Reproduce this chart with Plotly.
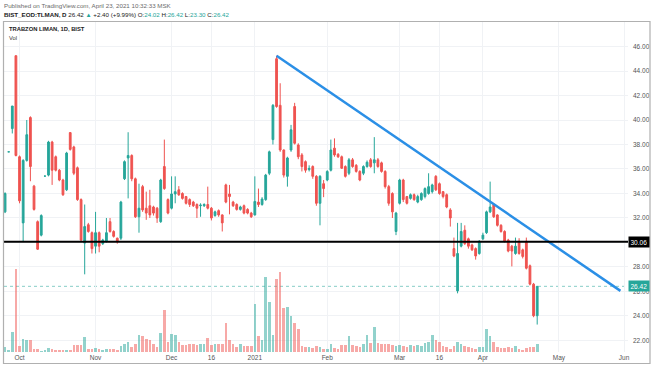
import pandas as pd
import plotly.graph_objects as go

# ---------------- data ----------------
past_holidays = ["2020-10-29", "2021-01-01"]
future_holidays = ["2021-04-23", "2021-05-13", "2021-05-14", "2021-05-19"]
dates = pd.bdate_range("2020-09-25", "2021-04-22", freq="C", holidays=past_holidays)

open_ = [32.5, 37.4, 39.3, 45.25, 37.0, 31.6, 36.7, 40.2, 34.6, 31.7,
         30.6, 35.42, 35.5, 38.2, 37.0, 35.9, 35.1, 34.3, 38.97, 37.8,
         36.1, 33.5, 29.95, 31.45, 30.8, 29.7, 30.8, 29.9, 30.1, 31.7,
         30.9, 30.35, 30.35, 35.2, 36.9, 37.1, 35.2, 32.1, 34.56, 32.8,
         33.0, 32.9, 32.8, 31.7, 36.2, 33.5, 32.8, 33.96, 34.3, 34.0,
         33.75, 33.5, 33.3, 33.1, 33.0, 33.0, 33.1, 32.8, 32.2, 32.6,
         32.25, 34.7, 33.96, 33.3, 33.1, 32.7, 33.0, 32.7, 32.4, 32.25,
         33.3, 33.1, 33.5, 35.65, 38.4, 45.0, 41.2, 37.55, 35.4, 37.55,
         41.1, 37.96, 37.15, 36.6, 35.95, 36.2, 35.4, 33.2, 34.8, 35.1,
         35.9, 37.7, 37.2, 37.0, 36.2, 35.65, 36.75, 36.3, 35.8, 35.65,
         36.2, 36.75, 36.5, 36.75, 36.5, 35.8, 34.56, 34.0, 30.9, 33.2,
         35.1, 33.75, 33.6, 33.9, 33.3, 33.5, 33.75, 34.0, 34.15, 35.4,
         34.8, 34.15, 33.9, 32.66, 29.5, 26.05, 29.7, 31.0, 30.3, 29.8,
         29.5, 29.1, 30.3, 30.8, 32.5, 33.1, 32.25, 31.4, 30.9, 30.2,
         29.7, 29.1, 30.1, 29.4, 30.1, 28.1, 26.6, 24.02]
high = [34.1, 37.4, 41.14, 45.25, 37.1, 36.8, 40.0, 40.3, 34.7, 31.8,
        32.3, 35.42, 38.3, 38.3, 37.1, 36.0, 35.2, 37.4, 39.0, 37.9,
        36.2, 33.6, 33.1, 31.6, 30.9, 32.5, 30.9, 30.3, 32.0, 32.0,
        31.0, 30.4, 33.4, 36.7, 39.0, 37.2, 35.3, 34.8, 34.7, 34.15,
        34.3, 33.0, 32.9, 35.2, 38.4, 33.6, 35.4, 35.4, 34.6, 34.1,
        33.8, 33.6, 33.4, 33.2, 33.2, 33.2, 34.56, 32.9, 32.6, 32.7,
        32.3, 34.8, 34.7, 33.4, 33.2, 33.0, 33.1, 32.8, 32.5, 35.4,
        34.4, 33.7, 35.6, 37.5, 41.3, 45.25, 43.0, 37.6, 37.0, 39.6,
        41.4, 38.1, 37.3, 36.7, 36.3, 36.3, 35.5, 35.5, 35.1, 35.9,
        38.4, 38.5, 37.3, 37.1, 36.3, 36.9, 36.9, 36.4, 35.9, 36.3,
        36.7, 36.9, 38.6, 36.9, 36.6, 35.9, 34.7, 34.1, 32.5, 35.2,
        35.2, 33.8, 34.0, 34.0, 33.9, 34.1, 34.5, 35.65, 34.8, 35.5,
        34.9, 34.2, 34.0, 32.8, 30.4, 31.6, 31.6, 31.4, 30.4, 29.9,
        29.6, 30.2, 30.8, 32.6, 34.97, 33.2, 32.3, 31.5, 31.0, 30.3,
        29.8, 30.4, 30.35, 29.5, 30.4, 28.2, 26.7, 26.42]
low = [32.4, 37.4, 38.9, 37.03, 33.2, 30.06, 36.6, 35.0, 32.6, 29.4,
       30.5, 35.42, 35.4, 34.7, 35.8, 35.0, 33.8, 34.2, 37.5, 35.5,
       33.4, 30.1, 27.4, 30.8, 29.1, 29.1, 29.2, 29.8, 30.0, 30.8,
       30.4, 29.9, 30.2, 35.1, 33.6, 35.0, 32.0, 30.8, 32.5, 31.85,
       32.0, 32.2, 31.6, 31.6, 34.3, 32.3, 32.7, 33.2, 33.8, 33.5,
       33.1, 32.9, 32.9, 32.0, 32.1, 32.9, 32.7, 31.8, 32.1, 32.1,
       30.9, 33.2, 32.3, 32.9, 32.6, 32.6, 32.3, 32.3, 32.0, 32.2,
       32.9, 33.0, 33.4, 35.5, 38.0, 41.0, 37.4, 35.3, 34.56, 37.4,
       38.0, 36.8, 35.8, 35.7, 35.8, 35.2, 33.0, 31.4, 33.7, 35.0,
       35.8, 37.0, 36.9, 36.0, 35.3, 35.5, 36.1, 35.7, 35.0, 35.5,
       36.1, 36.1, 35.65, 36.1, 35.7, 34.4, 33.0, 32.0, 30.6, 33.1,
       33.3, 33.1, 33.5, 33.4, 33.2, 33.4, 33.6, 33.9, 34.0, 34.2,
       33.9, 33.6, 32.8, 31.3, 28.8, 25.85, 29.6, 29.8, 29.5, 29.3,
       28.6, 29.0, 30.2, 30.7, 32.4, 32.0, 31.3, 30.8, 30.0, 29.2,
       28.05, 29.0, 29.0, 28.7, 27.8, 26.5, 23.9, 23.30]
close = [34.0, 37.4, 41.14, 37.1, 33.4, 36.7, 38.8, 36.2, 32.7, 29.45,
         32.2, 35.42, 38.2, 35.9, 35.9, 35.1, 33.9, 37.3, 37.6, 35.65,
         33.5, 30.2, 31.3, 30.9, 29.5, 30.8, 29.7, 30.2, 30.8, 30.9,
         30.5, 30.1, 33.3, 36.6, 37.1, 35.2, 32.1, 32.8, 32.66, 32.4,
         32.25, 32.4, 32.0, 35.1, 34.4, 32.4, 33.96, 34.15, 33.9, 33.6,
         33.2, 33.1, 33.0, 32.8, 33.05, 33.1, 32.8, 32.0, 32.5, 32.25,
         31.6, 33.3, 33.75, 33.0, 32.7, 32.9, 32.4, 32.4, 32.1, 33.35,
         33.1, 33.55, 35.5, 37.4, 41.2, 41.1, 37.55, 35.5, 36.9, 39.2,
         38.1, 37.0, 36.2, 35.9, 36.05, 35.4, 33.2, 35.4, 34.4, 35.8,
         37.55, 37.15, 37.0, 36.06, 35.4, 36.75, 36.2, 35.8, 35.1, 36.2,
         36.55, 36.2, 36.75, 36.2, 35.8, 34.56, 33.2, 32.5, 32.4, 35.1,
         33.5, 33.2, 33.9, 33.5, 33.75, 34.0, 34.4, 34.56, 34.7, 34.3,
         34.0, 33.75, 32.9, 32.0, 28.9, 29.1, 30.9, 29.9, 29.7, 29.4,
         28.9, 30.1, 30.6, 32.5, 32.9, 32.1, 31.4, 30.9, 30.1, 29.3,
         29.3, 29.7, 29.1, 28.86, 27.9, 26.6, 24.02, 26.42]
volume = [1.5, 0.5, 6.0, 24.8, 1.8, 3.8, 3.5, 3.5, 0.8, 0.8,
          0.3, 0.5, 1.2, 1.0, 0.5, 0.5, 0.5, 0.6, 0.6, 2.0,
          2.2, 2.2, 4.5, 1.0, 0.8, 1.2, 1.0, 0.7, 0.8, 0.8,
          0.8, 0.7, 1.8, 2.5, 3.0, 1.5, 2.5, 5.2, 4.7, 4.0,
          3.5, 2.5, 1.5, 5.8, 12.7, 3.0, 5.5, 5.0, 3.0, 2.2,
          2.2, 2.3, 2.3, 2.2, 2.3, 2.5, 4.3, 2.2, 2.5, 2.5,
          2.3, 8.8, 3.5, 2.5, 1.5, 2.3, 1.7, 1.8, 1.7, 14.3,
          4.8, 3.5, 22.5, 15.0, 5.2, 21.8, 24.0, 13.2, 13.5, 10.7,
          8.8, 7.0, 1.7, 1.5, 1.5, 1.3, 1.7, 1.5, 1.0, 0.8,
          2.3, 1.2, 1.0, 2.2, 2.2, 4.7, 2.2, 1.7, 1.5, 2.3,
          5.2, 2.7, 7.5, 2.7, 2.5, 2.3, 2.3, 2.2, 1.8, 2.2,
          1.8, 1.5, 2.0, 1.7, 2.0, 1.7, 2.7, 3.0, 5.0, 3.7,
          3.0, 1.7, 1.5, 1.0, 1.7, 3.0, 2.5, 1.7, 1.5, 1.3,
          1.0, 1.5, 1.5, 7.0, 4.8, 3.0, 1.5, 1.3, 1.3, 1.5,
          1.3, 1.7, 1.0, 0.7, 1.3, 1.5, 1.5, 2.3]

level_value = 30.06
last_price = 26.42
trend_dates = ["2021-01-12", "2021-05-31"]
trend_values = [45.25, 26.05]

price_ticks = [22, 24, 26, 28, 30, 32, 34, 36, 38, 40, 42, 44, 46]
time_tick_dates = ["2020-10-01", "2020-11-02", "2020-12-01", "2020-12-16", "2021-01-04",
                   "2021-02-01", "2021-03-01", "2021-03-16", "2021-04-01", "2021-05-03",
                   "2021-06-01"]
time_tick_labels = ["Oct", "Nov", "Dec", "16", "2021", "Feb", "Mar", "16", "Apr", "May", "Jun"]

assert len(dates) == len(open_) == len(high) == len(low) == len(close) == len(volume)

# ---------------- styling ----------------
UP = "#26a69a"
DOWN = "#ef5350"
UP_VOL = "rgba(38,166,154,0.5)"
DOWN_VOL = "rgba(239,83,80,0.5)"
FONT = "Liberation Sans"
W, H = 654, 366
ML, MR, MT, MB = 4, 26, 22, 14
PW, PH = W - ML - MR, H - MT - MB


def px_x(x):
    return (x - ML) / PW


def px_y(y):
    return (H - MB - y) / PH


vol_colors = [UP_VOL if c >= o else DOWN_VOL for o, c in zip(open_, close)]

fig = go.Figure()

fig.add_trace(go.Candlestick(
    x=dates, open=open_, high=high, low=low, close=close,
    increasing=dict(line=dict(color=UP, width=1), fillcolor=UP),
    decreasing=dict(line=dict(color=DOWN, width=1), fillcolor=DOWN),
    whiskerwidth=0, hoverinfo="skip", showlegend=False,
))

fig.add_trace(go.Bar(
    x=dates, y=volume, marker=dict(color=vol_colors, line=dict(width=0)),
    width=0.72 * 86400000, yaxis="y2", hoverinfo="skip", showlegend=False,
))

fig.add_trace(go.Scatter(
    x=pd.to_datetime(trend_dates), y=trend_values, mode="lines",
    line=dict(color="#2b8fe6", width=2.5), hoverinfo="skip", showlegend=False,
))

shapes = [
    dict(type="line", xref="paper", x0=0, x1=1, yref="y", y0=last_price, y1=last_price,
         line=dict(color="rgba(38,166,154,0.55)", width=1, dash="dot"), layer="below"),
    dict(type="line", xref="paper", x0=0, x1=1, yref="y", y0=level_value, y1=level_value,
         line=dict(color="#000000", width=2), layer="above"),
    dict(type="rect", xref="paper", yref="paper",
         x0=px_x(3.5), x1=px_x(650), y0=px_y(363.5), y1=px_y(21.5),
         line=dict(color="#b0b0b0", width=1.2), layer="above"),
]

annotations = [
    dict(xref="paper", yref="paper", x=px_x(2), y=px_y(6), xanchor="left", yanchor="middle",
         text="Published on TradingView.com, April 23, 2021 10:32:33 MSK",
         showarrow=False, font=dict(family=FONT, size=6.2, color="#6a6a6a")),
    dict(xref="paper", yref="paper", x=px_x(2), y=px_y(15), xanchor="left", yanchor="middle",
         text=("<b>BIST_EOD:TLMAN, D</b> 26.42 <span style='color:#26a69a'>▲</span> +2.40 (+9.99%) "
               "O:<span style='color:#26a69a'>24.02</span> H:<span style='color:#26a69a'>26.42</span> "
               "L:<span style='color:#26a69a'>23.30</span> C:<span style='color:#26a69a'>26.42</span>"),
         showarrow=False, font=dict(family=FONT, size=6.2, color="#222222")),
    dict(xref="paper", yref="paper", x=px_x(7), y=px_y(29), xanchor="left", yanchor="middle",
         text="<b>TRABZON LIMAN, 1D, BIST</b>",
         showarrow=False, font=dict(family=FONT, size=5.8, color="#222222")),
    dict(xref="paper", yref="paper", x=px_x(7), y=px_y(38), xanchor="left", yanchor="middle",
         text="Vol", showarrow=False, font=dict(family=FONT, size=5.8, color="#333333")),
    dict(xref="paper", yref="y", x=1, y=level_value, xanchor="left", yanchor="middle",
         text="30.06", showarrow=False, bgcolor="#000000", borderpad=1.5,
         font=dict(family=FONT, size=6.5, color="#ffffff")),
    dict(xref="paper", yref="y", x=1, y=last_price, xanchor="left", yanchor="middle",
         text="26.42", showarrow=False, bgcolor=UP, borderpad=1.5,
         font=dict(family=FONT, size=6.5, color="#ffffff")),
]

fig.update_layout(
    width=W, height=H,
    margin=dict(l=ML, r=MR, t=MT, b=MB, pad=0),
    paper_bgcolor="#ffffff", plot_bgcolor="#ffffff",
    showlegend=False,
    shapes=shapes, annotations=annotations,
    bargap=0,
    xaxis=dict(
        type="date",
        range=["2020-09-24 17:00", "2021-06-02 02:00"],
        rangebreaks=[dict(bounds=["sat", "mon"]), dict(values=past_holidays + future_holidays)],
        rangeslider=dict(visible=False),
        tickmode="array", tickvals=pd.to_datetime(time_tick_dates), ticktext=time_tick_labels,
        showgrid=True, gridcolor="#f0f2f5", gridwidth=1,
        zeroline=False, showline=False, ticks="",
        tickfont=dict(family=FONT, size=6.5, color="#555555"),
    ),
    yaxis=dict(
        range=[21.06, 48.0], side="right",
        tickmode="array", tickvals=price_ticks, ticktext=[f"{v:.2f}" for v in price_ticks],
        showgrid=True, gridcolor="#f0f2f5", gridwidth=1,
        zeroline=False, showline=False, ticks="",
        ticklabelstandoff=4,
        tickfont=dict(family=FONT, size=6.5, color="#555555"),
    ),
    yaxis2=dict(range=[0, 99], overlaying="y", visible=False, showgrid=False),
)

fig.write_html("out.html", config={"displayModeBar": False},
               post_script="document.body.style.margin='0px';")
